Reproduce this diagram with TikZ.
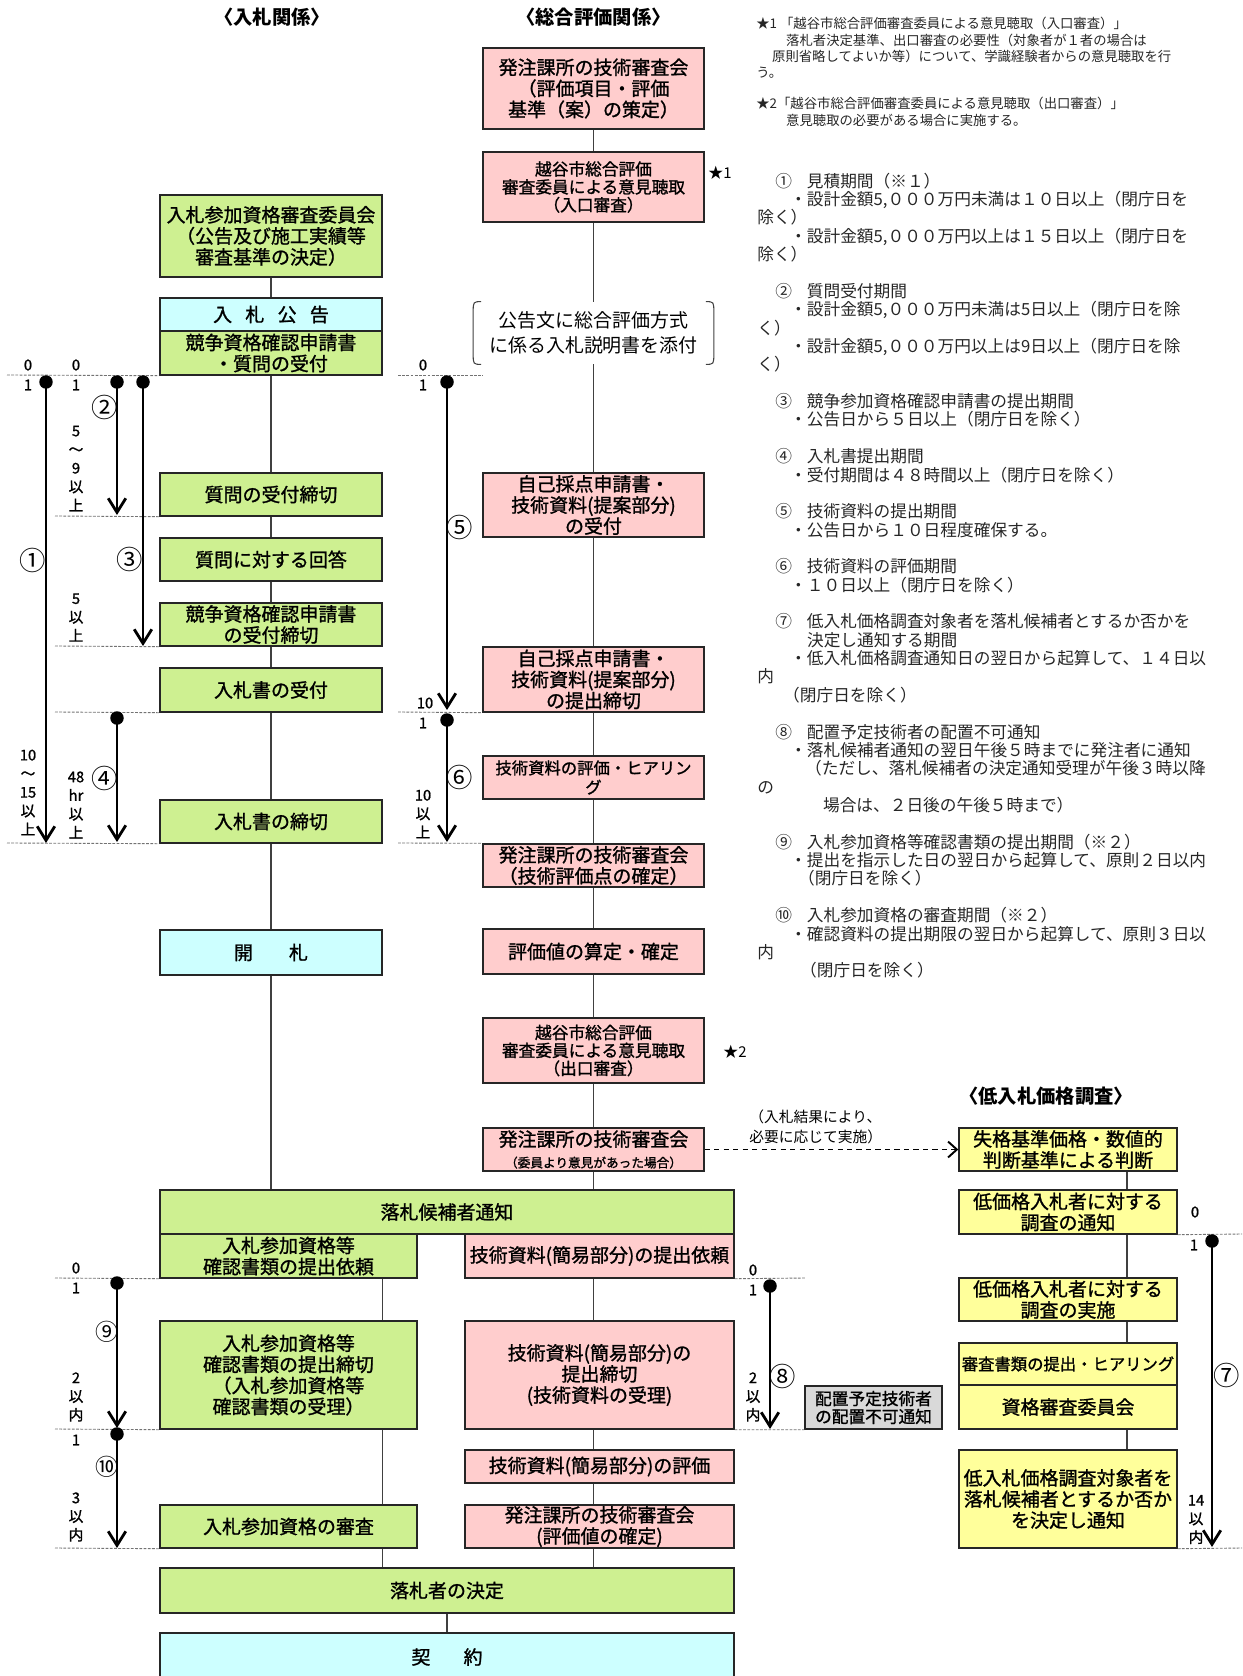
\documentclass[tikz,border=0pt]{standalone}
\usepackage{fontspec}
\setmainfont{Noto Sans CJK JP}
\newfontfamily\boxfam{Noto Sans CJK JP}[FakeBold=1.2]
\usetikzlibrary{arrows.meta}
\definecolor{grn}{RGB}{206,240,145}
\definecolor{pnk}{RGB}{255,205,205}
\definecolor{cyn}{RGB}{205,255,255}
\definecolor{ylw}{RGB}{255,255,155}
\definecolor{gry}{RGB}{217,217,217}
\newcommand\boxfont{\boxfam\fontsize{10.8pt}{12pt}\selectfont}
\newcommand\midbox{\boxfam\fontsize{9.3pt}{11pt}\selectfont}
\newcommand\smallbox{\boxfam\fontsize{9.5pt}{10.2pt}\selectfont}
\newcommand\tinybox{\boxfam\fontsize{7.2pt}{8.5pt}\selectfont}
\newcommand\headfont{\fontsize{11pt}{13pt}\selectfont\bfseries}
\newcommand\notefont{\fontsize{9.5pt}{10.45pt}\selectfont}
\newcommand\starfont{\fontsize{7.6pt}{9.3pt}\selectfont}
\newcommand\daysfont{\boxfam\fontsize{8.4pt}{10.6pt}\selectfont}
\newcommand\marufont{\fontsize{15pt}{16pt}\selectfont}
\newcommand\bktfont{\fontsize{10.8pt}{14.2pt}\selectfont}
\newcommand\lblfont{\fontsize{8.4pt}{11.3pt}\selectfont}
\tikzset{
  box/.style={draw=black!85,line width=0.8pt,minimum width=4.44cm,minimum height=0.86cm,inner sep=0pt,align=center,font=\boxfont},
  gbox/.style={box,fill=grn},
  pbox/.style={box,fill=pnk,minimum width=4.42cm},
  cbox/.style={box,fill=cyn},
  ybox/.style={box,fill=ylw,minimum width=4.36cm},
  hbox/.style={box,fill=gry,minimum width=2.74cm,font=\smallbox},
  brk/.style={minimum width=4.8cm,minimum height=1.24cm,inner sep=0pt,align=center,font=\bktfont},
  head/.style={inner sep=0pt,font=\headfont},
  conn/.style={draw=black!75,line width=0.6pt},
  guide/.style={draw=black!55,line width=0.5pt,dash pattern=on 1.6pt off 0.8pt},
  tl/.style={line width=1.6pt,-{Straight Barb[length=8pt,width=10pt]}},
  dasharrow/.style={line width=1.1pt,dash pattern=on 3pt off 2.4pt,-{Straight Barb[length=5pt,width=9pt]}},
  dot/.style={circle,fill=black,inner sep=0pt,minimum size=0.27cm},
  days/.style={font=\daysfont,align=center,inner sep=0pt},
  maru/.style={font=\marufont,inner sep=0pt},
  star/.style={font=\fontsize{8.5pt}{10pt}\selectfont,inner sep=0pt},
  note/.style={font=\notefont,text=black!85,align=left,inner sep=0pt,anchor=north west},
}

\begin{document}
\begin{tikzpicture}[x=0.02cm,y=-0.02cm]
\useasboundingbox (0,0) rectangle (1242,1676);
\node[head] (h1) at (272,17) {〈入札関係〉};
\node[head] (h2) at (593.5,17) {〈総合評価関係〉};
\node[head] (h3) at (1046,1096) {〈低入札価格調査〉};

\node[gbox,minimum height=1.64cm] (L1) at (271,236) {入札参加資格審査委員会\\（公告及び施工実績等\\審査基準の決定）};
\node[cbox,minimum height=0.66cm] (L2) at (271,314.5) {入\hspace{0.7em}札\hspace{0.7em}公\hspace{0.7em}告};
\node[gbox,minimum height=0.88cm] (L3) at (271,353) {競争資格確認申請書\\・質問の受付};
\node[gbox] (L4) at (271,494.5) {質問の受付締切};
\node[gbox] (L5) at (271,559.5) {質問に対する回答};
\node[gbox] (L6) at (271,624.5) {競争資格確認申請書\\の受付締切};
\node[gbox,minimum height=0.88cm] (L7) at (271,690) {入札書の受付};
\node[gbox] (L8) at (271,821.5) {入札書の締切};
\node[cbox,minimum height=0.9cm] (L9) at (271,952.5) {開\hspace{1.9em}札};

\node[pbox,minimum height=1.62cm] (M1) at (593.5,88.5) {発注課所の技術審査会\\（評価項目・評価\\基準（案）の策定）};
\node[pbox,minimum height=1.4cm,font=\smallbox] (M2) at (593.5,187) {越谷市総合評価\\審査委員による意見聴取\\（入口審査）};
\node[star] (s1) at (720,173) {★1};
\node[brk] (B) at (593.5,333) {公告文に総合評価方式\\に係る入札説明書を添付};
\node[pbox,minimum height=1.28cm] (M3) at (593.5,505) {自己採点申請書・\\技術資料(提案部分)\\の受付};
\node[pbox,minimum height=1.3cm] (M4) at (593.5,679.5) {自己採点申請書・\\技術資料(提案部分)\\の提出締切};
\node[pbox,font=\midbox] (M5) at (593.5,777.5) {技術資料の評価・ヒアリン\\グ};
\node[pbox] (M6) at (593.5,865.5) {発注課所の技術審査会\\（技術評価点の確定）};
\node[pbox,minimum height=0.9cm] (M7) at (593.5,951.5) {評価値の算定・確定};
\node[pbox,minimum height=1.3cm,font=\smallbox] (M8) at (593.5,1050.5) {越谷市総合評価\\審査委員による意見聴取\\（出口審査）};
\node[star] (s2) at (735,1052) {★2};
\node[pbox] (M9) at (593.5,1149.5) {発注課所の技術審査会\\{\tinybox（委員より意見があった場合）}};

\node[gbox,minimum width=11.48cm,minimum height=0.88cm] (W1) at (447,1212) {落札候補者通知};
\node[gbox,minimum width=5.14cm,minimum height=0.88cm] (L10) at (288.5,1256) {入札参加資格等\\確認書類の提出依頼};
\node[pbox,minimum width=5.38cm,minimum height=0.88cm] (M10) at (599.5,1256) {技術資料(簡易部分)の提出依頼};
\node[gbox,minimum width=5.14cm,minimum height=2.16cm] (L11) at (288.5,1375) {入札参加資格等\\確認書類の提出締切\\（入札参加資格等\\確認書類の受理）};
\node[pbox,minimum width=5.38cm,minimum height=2.16cm] (M11) at (599.5,1375) {技術資料(簡易部分)の\\提出締切\\(技術資料の受理)};
\node[pbox,minimum width=5.38cm,minimum height=0.66cm] (M12) at (599.5,1466.5) {技術資料(簡易部分)の評価};
\node[gbox,minimum width=5.14cm] (L12) at (288.5,1526.5) {入札参加資格の審査};
\node[pbox,minimum width=5.38cm] (M13) at (599.5,1526.5) {発注課所の技術審査会\\(評価値の確定)};
\node[gbox,minimum width=11.48cm,minimum height=0.9cm] (W2) at (447,1590.5) {落札者の決定};
\node[cbox,minimum width=11.48cm,minimum height=0.96cm] (W3) at (447,1657) {契\hspace{1.75em}約};
\node[hbox] (G) at (873.5,1407.5) {配置予定技術者\\の配置不可通知};

\node[ybox] (Y1) at (1068,1149.5) {失格基準価格・数値的\\判断基準による判断};
\node[ybox,minimum height=0.88cm] (Y2) at (1068,1212) {低価格入札者に対する\\調査の通知};
\node[ybox] (Y3) at (1068,1299.5) {低価格入札者に対する\\調査の実施};
\node[ybox,minimum height=0.84cm,font=\midbox] (Y4) at (1068,1364) {審査書類の提出・ヒアリング};
\node[ybox,minimum height=0.88cm] (Y5) at (1068,1407) {資格審査委員会};
\node[ybox,minimum height=1.96cm] (Y6) at (1068,1499) {低入札価格調査対象者を\\落札候補者とするか否か\\を決定し通知};

\path[conn] (L1) edge (L2) (L3) edge (L4) (L4) edge (L5) (L5) edge (L6) (L6) edge (L7) (L7) edge (L8) (L8) edge (L9);
\draw[conn] (L9.south) -- (L9.south |- W1.north);
\path[conn] (M1) edge (M2) (M2) edge (B) (B) edge (M3) (M3) edge (M4) (M4) edge (M5) (M5) edge (M6) (M6) edge (M7) (M7) edge (M8) (M8) edge (M9);
\draw[conn] (M9.south) -- (M9.south |- W1.north);
\draw[conn] (L4.east |- L10.south) -- (L4.east |- L11.north);
\draw[conn] (L4.east |- L11.south) -- (L4.east |- L12.north);
\draw[conn] (L4.east |- L12.south) -- (L4.east |- W2.north);
\draw[conn] (M1 |- M10.south) -- (M1 |- M11.north);
\draw[conn] (M1 |- M11.south) -- (M1 |- M12.north);
\draw[conn] (M1 |- M12.south) -- (M1 |- M13.north);
\draw[conn] (M1 |- M13.south) -- (M1 |- W2.north);
\path[conn] (W2) edge (W3);
\coordinate (yx) at (1127,0);
\draw[conn] (yx |- Y1.south) -- (yx |- Y2.north);
\draw[conn] (yx |- Y2.south) -- (yx |- Y3.north);
\draw[conn] (yx |- Y3.south) -- (yx |- Y4.north);
\draw[conn] (yx |- Y5.south) -- (yx |- Y6.north);
\draw[conn] ([xshift=0.16cm]B.north west) .. controls (B.north west) .. ([yshift=-0.22cm]B.north west) -- ([yshift=0.22cm]B.south west) .. controls (B.south west) .. ([xshift=0.16cm]B.south west);
\draw[conn] ([xshift=-0.16cm]B.north east) .. controls (B.north east) .. ([yshift=-0.22cm]B.north east) -- ([yshift=0.22cm]B.south east) .. controls (B.south east) .. ([xshift=-0.16cm]B.south east);

\draw[dasharrow] (M9) -- (Y1);
\node[note,font=\lblfont,text=black] (rs) at (749,1110) {（入札結果により、\\必要に応じて実施）};

\coordinate (g1) at (7,375);
\coordinate (g2) at (55,516);
\coordinate (g3) at (55,646);
\coordinate (g4) at (55,712);
\coordinate (g5) at (7,843);
\coordinate (g6) at (398,375);
\coordinate (g7) at (483,375);
\coordinate (g8) at (398,712);
\coordinate (g9) at (398,843);
\coordinate (g10) at (55,1278);
\coordinate (g11) at (55,1429);
\coordinate (g12) at (55,1548);
\coordinate (g13) at (805,1278);
\coordinate (g14) at (1242,1234);
\coordinate (g15) at (1242,1548);
\draw[guide] (g1) -- (L3.south west);
\draw[guide] (g2) -- (L4.south west);
\draw[guide] (g3) -- (L6.south west);
\draw[guide] (g4) -- (L7.south west);
\draw[guide] (g5) -- (L8.south west);
\draw[guide] (g6) -- (g7);
\draw[guide] (g8) -- (M4.south west);
\draw[guide] (g9) -- (M6.north west);
\draw[guide] (g10) -- (L10.south west);
\draw[guide] (g11) -- (L11.south west);
\draw[guide] (g12) -- (L12.south west);
\draw[guide] (M10.south east) -- (g13);
\draw[guide] (M11.south east) -- (G.south west);
\draw[guide] (Y2.south east) -- (g14);
\draw[guide] (Y6.south east) -- (g15);

\node[dot] (d1) at (46,382) {};
\node[dot] (d2) at (117,382) {};
\node[dot] (d3) at (143,382) {};
\node[dot] (d4) at (117,718) {};
\node[dot] (d5) at (447,382) {};
\node[dot] (d6) at (447,720) {};
\node[dot] (d7) at (1212,1241) {};
\node[dot] (d8) at (770,1286) {};
\node[dot] (d9) at (117,1283) {};
\node[dot] (d10) at (117,1434) {};
\coordinate (e1) at (46,843);
\coordinate (e2) at (117,515);
\coordinate (e3) at (143,646);
\coordinate (e4) at (117,842);
\coordinate (e5) at (447,710);
\coordinate (e6) at (447,842);
\coordinate (e7) at (1212,1547);
\coordinate (e8) at (770,1429);
\coordinate (e9) at (117,1428);
\coordinate (e10) at (117,1548);
\draw[tl] (d1.center) -- (e1);
\draw[tl] (d2.center) -- (e2);
\draw[tl] (d3.center) -- (e3);
\draw[tl] (d4.center) -- (e4);
\draw[tl] (d5.center) -- (e5);
\draw[tl] (d6.center) -- (e6);
\draw[tl] (d7.center) -- (e7);
\draw[tl] (d8.center) -- (e8);
\draw[tl] (d9.center) -- (e9);
\draw[tl] (d10.center) -- (e10);

\node[maru] (c1) at (33,560) {①};
\node[maru] (c2) at (105,407) {②};
\node[maru] (c3) at (130,559) {③};
\node[maru] (c4) at (105,778) {④};
\node[maru] (c5) at (460,527) {⑤};
\node[maru] (c6) at (460,777) {⑥};
\node[maru] (c7) at (1227,1375) {⑦};
\node[maru] (c8) at (783,1376) {⑧};
\node[maru,font=\fontsize{13pt}{14pt}\selectfont] (c9) at (107,1332) {⑨};
\node[maru,font=\fontsize{13pt}{14pt}\selectfont] (c10) at (107,1467) {⑩};

\node[days] (t1) at (28,365) {0};
\node[days] (t2) at (28,385) {1};
\node[days] (t3) at (76,365) {0};
\node[days] (t4) at (76,385) {1};
\node[days] (t5) at (76,468.5) {5\\～\\9\\以\\上};
\node[days] (t6) at (76,617.5) {5\\以\\上};
\node[days] (t7) at (28,792.5) {10\\～\\15\\以\\上};
\node[days] (t8) at (76,805) {48\\hr\\以\\上};
\node[days] (t9) at (423,365) {0};
\node[days] (t10) at (423,385) {1};
\node[days] (t11) at (425,703) {10};
\node[days] (t12) at (423,723) {1};
\node[days] (t13) at (423,814) {10\\以\\上};
\node[days] (t14) at (76,1268) {0};
\node[days] (t15) at (76,1288) {1};
\node[days] (t16) at (76,1397) {2\\以\\内};
\node[days] (t17) at (76,1440) {1};
\node[days] (t18) at (76,1517) {3\\以\\内};
\node[days] (t19) at (753,1270) {0};
\node[days] (t20) at (753,1290) {1};
\node[days] (t21) at (753,1397) {2\\以\\内};
\node[days] (t22) at (1195,1212) {0};
\node[days] (t23) at (1194,1245) {1};
\node[days] (t24) at (1196,1519.5) {14\\以\\内};

\node[note,font=\starfont] (n1) at (756,17) {★1 「越谷市総合評価審査委員による意見聴取（入口審査）」\\
\hspace*{17pt}落札者決定基準、出口審査の必要性（対象者が１者の場合は\\
\hspace*{9pt}原則省略してよいか等）について、学識経験者からの意見聴取を行\\
う。\\[8.4pt]
★2「越谷市総合評価審査委員による意見聴取（出口審査）」\\
\hspace*{17pt}意見聴取の必要がある場合に実施する。};

\node[note] (n2) at (757,172.6) {\hspace*{10.2pt}①\hspace{8.5pt}見積期間（※１）\\
\hspace*{18.7pt}・設計金額5,０００万円未満は１０日以上（閉庁日を\\
除く）\\
\hspace*{18.7pt}・設計金額5,０００万円以上は１５日以上（閉庁日を\\
除く）\\[10.45pt]
\hspace*{10.2pt}②\hspace{8.5pt}質問受付期間\\
\hspace*{18.7pt}・設計金額5,０００万円未満は5日以上（閉庁日を除\\
く）\\
\hspace*{18.7pt}・設計金額5,０００万円以上は9日以上（閉庁日を除\\
く）\\[10.45pt]
\hspace*{10.2pt}③\hspace{8.5pt}競争参加資格確認申請書の提出期間\\
\hspace*{18.7pt}・公告日から５日以上（閉庁日を除く）\\[10.45pt]
\hspace*{10.2pt}④\hspace{8.5pt}入札書提出期間\\
\hspace*{18.7pt}・受付期間は４８時間以上（閉庁日を除く）\\[10.45pt]
\hspace*{10.2pt}⑤\hspace{8.5pt}技術資料の提出期間\\
\hspace*{18.7pt}・公告日から１０日程度確保する。\\[10.45pt]
\hspace*{10.2pt}⑥\hspace{8.5pt}技術資料の評価期間\\
\hspace*{18.7pt}・１０日以上（閉庁日を除く）\\[10.45pt]
\hspace*{10.2pt}⑦\hspace{8.5pt}低入札価格調査対象者を落札候補者とするか否かを\\
\hspace*{28.3pt}決定し通知する期間\\
\hspace*{18.7pt}・低入札価格調査通知日の翌日から起算して、１４日以\\
内\\
\hspace*{14.7pt}（閉庁日を除く）\\[10.45pt]
\hspace*{10.2pt}⑧\hspace{8.5pt}配置予定技術者の配置不可通知\\
\hspace*{18.7pt}・落札候補者通知の翌日午後５時までに発注者に通知\\
\hspace*{27.2pt}（ただし、落札候補者の決定通知受理が午後３時以降\\
の\\
\hspace*{37.4pt}場合は、２日後の午後５時まで）\\[10.45pt]
\hspace*{10.2pt}⑨\hspace{8.5pt}入札参加資格等確認書類の提出期間（※２）\\
\hspace*{18.7pt}・提出を指示した日の翌日から起算して、原則２日以内\\
\hspace*{23.2pt}（閉庁日を除く）\\[10.45pt]
\hspace*{10.2pt}⑩\hspace{8.5pt}入札参加資格の審査期間（※２）\\
\hspace*{18.7pt}・確認資料の提出期限の翌日から起算して、原則３日以\\
内\\
\hspace*{24.4pt}（閉庁日を除く）};
\end{tikzpicture}
\end{document}
